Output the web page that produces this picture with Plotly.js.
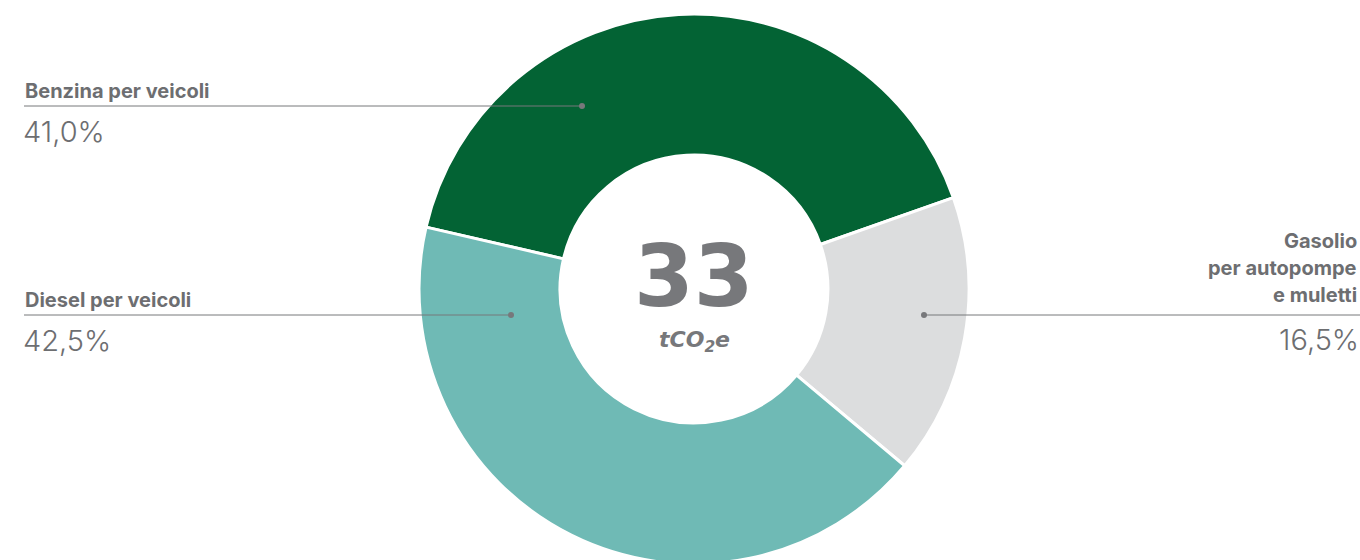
<!DOCTYPE html>
<html>
<head>
<meta charset="utf-8">
<script src="https://cdn.plot.ly/plotly-3.0.1.min.js"></script>
<style>
html,body{margin:0;padding:0;background:#fff;overflow:hidden;}
#chart{width:1360px;height:564px;}
</style>
</head>
<body>
<div id="chart"></div>
<script>
// Data
const categories = ["Benzina per veicoli", "Gasolio<br>per autopompe<br>e muletti", "Diesel per veicoli"];
const gasolioLines = ["Gasolio", "per autopompe", "e muletti"];
const shares = [41.0, 16.5, 42.5];
const shareLabels = ["41,0%", "16,5%", "42,5%"];
const colors = ["#036334", "#dcddde", "#6fbab5"];
const totalValue = "33";
const totalUnit = "tCO<sub>2</sub>e";

const W = 1360, H = 564;
const px = x => x / W;
const py = y => 1 - y / H;
const grey = "#6d6e71";

const trace = {
  type: "pie",
  values: shares,
  labels: categories,
  sort: false,
  direction: "clockwise",
  rotation: -77,
  hole: 0.487,
  marker: {colors: colors, line: {color: "#ffffff", width: 3}},
  textinfo: "none",
  hoverinfo: "label+percent",
  showlegend: false,
  domain: {x: [px(694 - 275), px(694 + 275)], y: [0, 550 / H]}
};

// Leader lines (label layout)
const leaders = [
  {x0: 24, x1: 582, y: 106, dot: 582},
  {x0: 924, x1: 1360, y: 315, dot: 924},
  {x0: 24, x1: 511, y: 315, dot: 511}
];
const shapes = [];
leaders.forEach(l => {
  shapes.push({type: "line", xref: "paper", yref: "paper", x0: px(l.x0), x1: px(l.x1), y0: py(l.y), y1: py(l.y),
    line: {color: "#77787b", width: 1}});
  shapes.push({type: "circle", xref: "paper", yref: "paper", x0: px(l.dot - 3), x1: px(l.dot + 3), y0: py(l.y - 3), y1: py(l.y + 3),
    fillcolor: "#77787b", line: {width: 0}});
});

const titleFont = {family: "Inter, Roboto, sans-serif", size: 20, color: grey, weight: 800};
const pctFont = {family: "Inter, Roboto, sans-serif", size: 29, color: grey, weight: 300};

const annotations = [
  {text: "<b>" + categories[0] + "</b>", x: px(23), y: py(91), xanchor: "left", yanchor: "middle", font: titleFont},
  {text: shareLabels[0], x: px(21), y: py(131), xanchor: "left", yanchor: "middle", font: pctFont},
  {text: "<b>" + categories[2] + "</b>", x: px(23), y: py(300), xanchor: "left", yanchor: "middle", font: titleFont},
  {text: shareLabels[2], x: px(21), y: py(340), xanchor: "left", yanchor: "middle", font: pctFont},
  {text: "<b>" + gasolioLines[0] + "</b>", x: px(1359), y: py(241), xanchor: "right", yanchor: "middle", font: titleFont},
  {text: "<b>" + gasolioLines[1] + "</b>", x: px(1359), y: py(268), xanchor: "right", yanchor: "middle", font: titleFont},
  {text: "<b>" + gasolioLines[2] + "</b>", x: px(1359), y: py(295), xanchor: "right", yanchor: "middle", font: titleFont},
  {text: shareLabels[1], x: px(1361), y: py(339), xanchor: "right", yanchor: "middle", font: pctFont},
  {text: "<b>" + totalValue + "</b>", x: px(694), y: py(276), xanchor: "center", yanchor: "middle",
    font: {family: "'DejaVu Sans', sans-serif", size: 86, color: "#77787b", weight: 700}},
  {text: "<b><i>" + totalUnit + "</i></b>", x: px(694), y: py(341), xanchor: "center", yanchor: "middle",
    font: {family: "'DejaVu Sans', sans-serif", size: 22, color: "#77787b", weight: 700, style: "italic"}}
];
annotations.forEach(a => { a.xref = "paper"; a.yref = "paper"; a.showarrow = false; });

const layout = {
  width: W, height: H,
  margin: {l: 0, r: 0, t: 0, b: 0},
  paper_bgcolor: "#ffffff", plot_bgcolor: "#ffffff",
  shapes: shapes,
  annotations: annotations
};

Plotly.newPlot("chart", [trace], layout, {displayModeBar: false, staticPlot: true});
</script>
</body>
</html>
